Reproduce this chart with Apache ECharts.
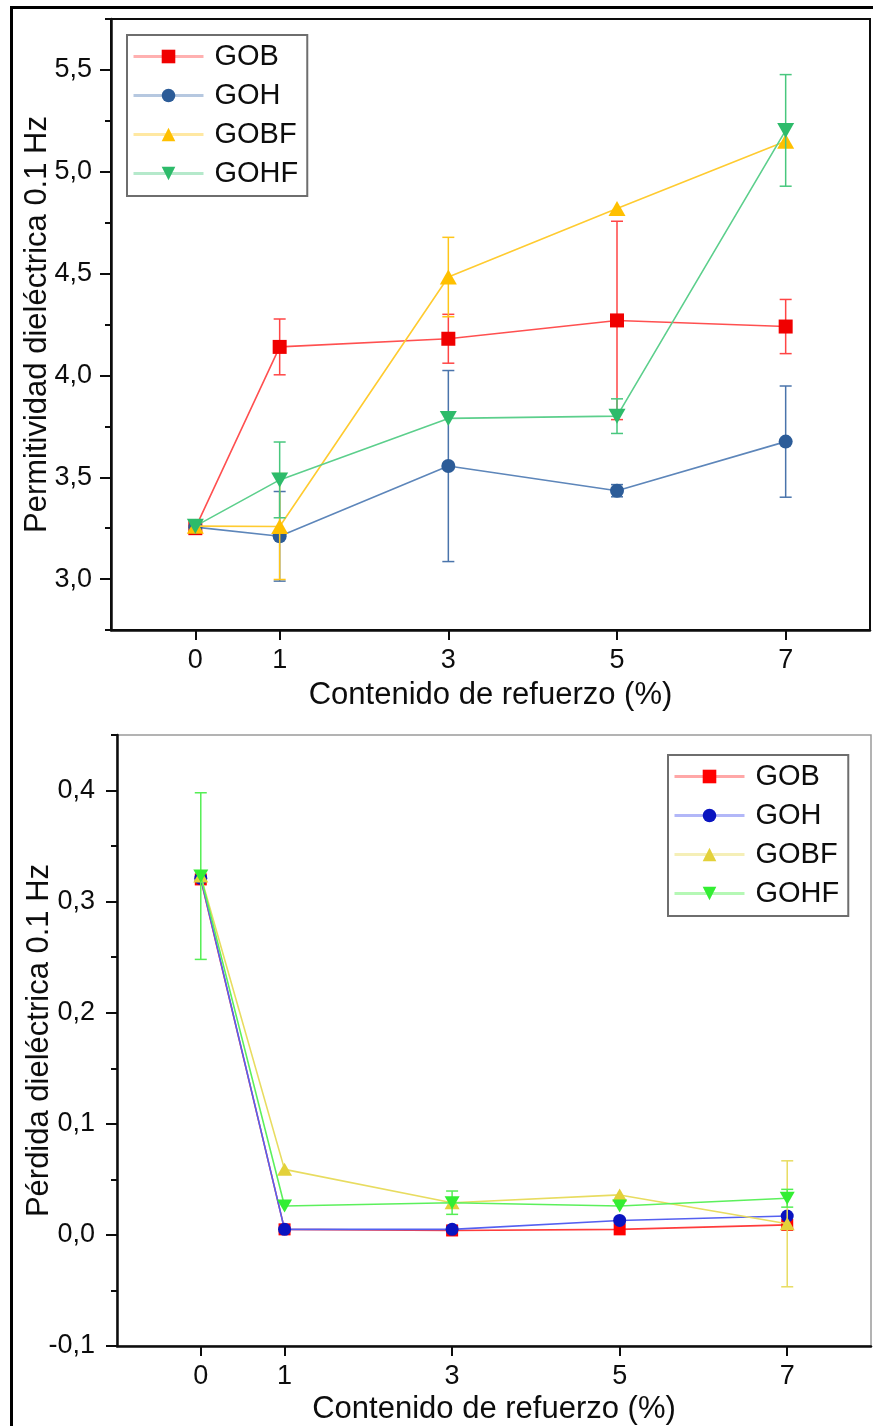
<!DOCTYPE html>
<html>
<head>
<meta charset="utf-8">
<title>Permitividad y pérdida dieléctrica</title>
<script src="https://cdn.jsdelivr.net/npm/echarts@6/dist/echarts.min.js"></script>
<style>
  html, body { margin: 0; padding: 0; background: #fff; }
  #chart { width: 873px; height: 1426px; }
</style>
</head>
<body>
<div id="chart"></div>
<script>
// Reinforcement content (%) on the x axis
const contenido = [0, 1, 3, 5, 7];
const seriesNames = ['GOB', 'GOH', 'GOBF', 'GOHF'];

// Dielectric permittivity at 0.1 Hz (mean and error)
const permGOB     = [3.25, 4.14, 4.18, 4.27, 4.24];
const permGOBerr  = [0, 0.137, 0.12, 0.487, 0.133];
const permGOH     = [3.255, 3.21, 3.555, 3.434, 3.675];
const permGOHerr  = [0, 0.22, 0.469, 0.03, 0.273];
const permGOBF    = [3.26, 3.258, 4.483, 4.82, 5.15];
const permGOBFerr = [0, 0.26, 0.195, 0, 0];
const permGOHF    = [3.26, 3.487, 3.789, 3.80, 5.203];
const permGOHFerr = [0, 0.186, 0, 0.085, 0.274];

// Dielectric loss at 0.1 Hz (mean and error)
const perdGOB     = [0.320, 0.005, 0.004, 0.005, 0.009];
const perdGOBerr  = [0, 0, 0, 0, 0];
const perdGOH     = [0.321, 0.005, 0.005, 0.013, 0.017];
const perdGOHerr  = [0, 0, 0, 0, 0];
const perdGOBF    = [0.323, 0.059, 0.029, 0.036, 0.010];
const perdGOBFerr = [0, 0, 0, 0, 0.0567];
const perdGOHF    = [0.323, 0.026, 0.029, 0.026, 0.033];
const perdGOHFerr = [0.075, 0, 0.0105, 0, 0.008];

// Tick labels
const xTicks = [0, 1, 3, 5, 7];
const permTicks = [3.0, 3.5, 4.0, 4.5, 5.0, 5.5];
const perdTicks = [-0.1, 0.0, 0.1, 0.2, 0.3, 0.4];

const FONT = 'Liberation Sans, Arial, sans-serif';
const INK = '#0d0d0d';

const perm = [permGOB, permGOH, permGOBF, permGOHF];
const permErr = [permGOBerr, permGOHerr, permGOBFerr, permGOHFerr];
const perd = [perdGOB, perdGOH, perdGOBF, perdGOHF];
const perdErr = [perdGOBerr, perdGOHerr, perdGOBFerr, perdGOHFerr];

const symbols = ['rect', 'circle', 'triangle', 'triangle'];
const rotations = [0, 0, 0, 180];

const topStyle = {
  marker: ['#f00000', '#2c5c98', '#ffc000', '#2dbb6a'],
  line:   ['#ff5050', '#5d86ba', '#ffcb30', '#5ccf8c'],
  err:    ['#ff4545', '#4a74ab', '#ffc61a', '#48c77e'],
  size:   [14, 14, [17, 15], [17, 15]]
};
const bottomStyle = {
  marker: ['#ff0000', '#0a14c0', '#e3d13a', '#33ee33'],
  line:   ['#ff3c3c', '#5560f0', '#e8dc60', '#5cf05c'],
  err:    ['#ff3c3c', '#4050e0', '#e8dc60', '#55ee55'],
  size:   [12, 13, [15, 13], [15, 13]]
};

function midpoints(ticks) {
  const out = [];
  for (let i = 0; i < ticks.length - 1; i++) out.push((ticks[i] + ticks[i + 1]) / 2);
  return out;
}

function comma(v) { return v.toFixed(1).replace('.', ','); }

// Vertical error bar with caps, drawn through the axis scales
function errorBar(params, api) {
  const x = api.value(0), y = api.value(1), e = api.value(2);
  if (!e) return null;
  const hi = api.coord([x, y + e]);
  const lo = api.coord([x, y - e]);
  const w = 6;
  const style = { stroke: api.visual('color'), lineWidth: 1.5, fill: null };
  return {
    type: 'group',
    children: [
      { type: 'line', shape: { x1: hi[0], y1: hi[1], x2: lo[0], y2: lo[1] }, style: style },
      { type: 'line', shape: { x1: hi[0] - w, y1: hi[1], x2: hi[0] + w, y2: hi[1] }, style: style },
      { type: 'line', shape: { x1: lo[0] - w, y1: lo[1], x2: lo[0] + w, y2: lo[1] }, style: style }
    ]
  };
}

function buildSeries(values, errors, style, axisIdx, suffix) {
  const out = [];
  values.forEach(function (vals, k) {
    const name = seriesNames[k] + suffix;
    out.push({
      type: 'custom',
      name: name + ' err',
      xAxisIndex: axisIdx.x,
      yAxisIndex: axisIdx.y,
      renderItem: errorBar,
      encode: { x: 0, y: 1 },
      itemStyle: { color: style.err[k] },
      z: 10 + k * 2,
      silent: true,
      data: contenido.map(function (c, i) { return [c, vals[i], errors[k][i]]; })
    });
    out.push({
      type: 'line',
      name: name,
      xAxisIndex: axisIdx.x,
      yAxisIndex: axisIdx.y,
      symbol: symbols[k],
      symbolRotate: rotations[k],
      symbolSize: style.size[k],
      showAllSymbol: true,
      itemStyle: { color: style.marker[k] },
      lineStyle: { color: style.line[k], width: 1.6 },
      z: 11 + k * 2,
      data: contenido.map(function (c, i) { return [c, vals[i]]; })
    });
  });
  return out;
}

function xAxisFor(gridIndex, gap) {
  return {
    type: 'value', gridIndex: gridIndex, min: -1, max: 8,
    name: 'Contenido de refuerzo (%)', nameLocation: 'middle', nameGap: gap,
    nameMoveOverlap: false,
    nameTextStyle: { fontFamily: FONT, fontSize: 31, color: INK },
    axisLine: { onZero: false, lineStyle: { color: INK, width: 2.5 } },
    axisTick: { show: true, inside: false, length: 10, customValues: xTicks, lineStyle: { color: INK, width: 2 } },
    axisLabel: { customValues: xTicks, margin: 17, fontFamily: FONT, fontSize: 27, color: INK },
    splitLine: { show: false }
  };
}

function yAxisFor(gridIndex, min, max, ticks, name, gap, margin) {
  return {
    type: 'value', gridIndex: gridIndex, min: min, max: max,
    name: name, nameLocation: 'middle', nameGap: gap, nameRotate: 90,
    nameMoveOverlap: false,
    nameTextStyle: { fontFamily: FONT, fontSize: 31, color: INK },
    axisLine: { onZero: false, lineStyle: { color: INK, width: 2.5 } },
    axisTick: { show: true, inside: false, length: 11, customValues: ticks, lineStyle: { color: INK, width: 2 } },
    axisLabel: { customValues: ticks, margin: margin, fontFamily: FONT, fontSize: 27, color: INK, formatter: comma },
    splitLine: { show: false }
  };
}

// Second axis per panel only carries the minor ticks
function minorAxisFor(gridIndex, min, max, ticks) {
  return {
    type: 'value', gridIndex: gridIndex, min: min, max: max, position: 'left',
    axisLine: { show: false, onZero: false },
    axisTick: { show: true, inside: false, length: 6, customValues: ticks, lineStyle: { color: INK, width: 2 } },
    axisLabel: { show: false },
    splitLine: { show: false }
  };
}

function legendFor(left, top, suffix) {
  return {
    orient: 'vertical', left: left, top: top,
    data: seriesNames.map(function (n) { return n + suffix; }),
    formatter: function (n) { return n.replace(suffix, ''); },
    itemWidth: 70, itemHeight: 17, itemGap: 10,
    padding: [7, 9, 8, 5],
    borderColor: '#6e6e6e', borderWidth: 2, backgroundColor: '#fff',
    lineStyle: { width: 3, opacity: 0.45 },
    textStyle: { fontFamily: FONT, fontSize: 29, color: INK, padding: [0, 0, 0, 6] },
    selectedMode: false
  };
}

const chart = echarts.init(document.getElementById('chart'), null, { renderer: 'canvas' });

const permMinor = [2.75].concat(midpoints(permTicks)).concat([5.75]);
const perdMinor = midpoints(perdTicks).concat([0.45]);

chart.setOption({
  animation: false,
  backgroundColor: '#fff',
  grid: [
    { left: 111, top: 19, width: 759, height: 611, show: true, borderColor: INK, borderWidth: 2, containLabel: false },
    { left: 117, top: 735, width: 754, height: 611, show: true, borderColor: '#9a9a9a', borderWidth: 1.5, containLabel: false }
  ],
  xAxis: [xAxisFor(0, 50), xAxisFor(1, 48)],
  yAxis: [
    yAxisFor(0, 2.75, 5.75, permTicks, 'Permitividad dieléctrica 0.1 Hz', 58, 19),
    minorAxisFor(0, 2.75, 5.75, permMinor),
    yAxisFor(1, -0.1, 0.45, perdTicks, 'Pérdida dieléctrica 0.1 Hz', 62, 22),
    minorAxisFor(1, -0.1, 0.45, perdMinor)
  ],
  legend: [
    legendFor(127, 35, ''),
    legendFor(668, 755, ' ')
  ],
  series: buildSeries(perm, permErr, topStyle, { x: 0, y: 0 }, '')
    .concat(buildSeries(perd, perdErr, bottomStyle, { x: 1, y: 2 }, ' ')),
  graphic: [{
    type: 'rect', left: 9, top: 5, z: 100, silent: true,
    shape: { width: 880, height: 1500 },
    style: { fill: null, stroke: '#000', lineWidth: 3 }
  }]
});
</script>
</body>
</html>
